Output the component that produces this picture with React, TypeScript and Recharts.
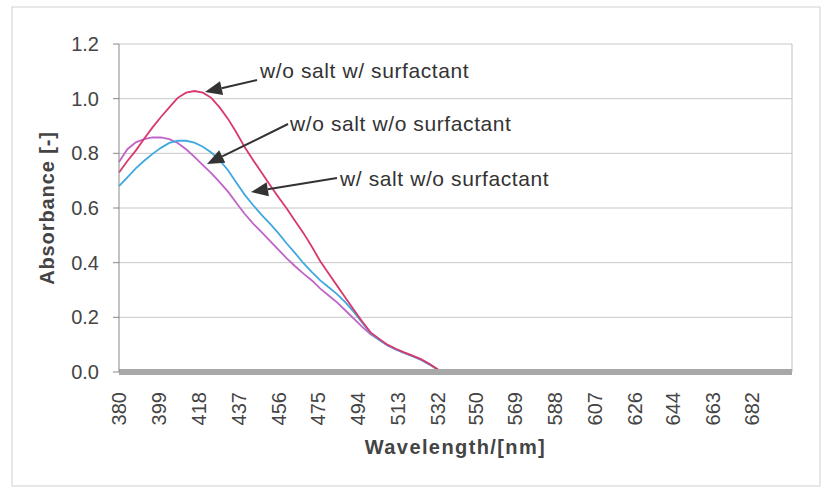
import React from 'react';
import { LineChart, Line, XAxis, YAxis, CartesianGrid, ReferenceLine } from 'recharts';

// 波長 (nm)
const wavelengths = [
  380, 384, 388, 392, 396, 400, 404, 408, 412, 416, 420, 424, 428, 432, 436, 440,
  444, 448, 452, 456, 460, 464, 468, 472, 476, 480, 484, 488, 492, 496, 500, 504,
  508, 512, 516, 520, 524, 528, 532, 534, 540,
];

// w/o salt w/ surfactant
const saltFreeSurfactant = [
  0.730, 0.772, 0.810, 0.853, 0.895, 0.933, 0.968, 1.003, 1.022, 1.028, 1.022, 1.003, 0.968, 0.926, 0.876, 0.822,
  0.775, 0.730, 0.684, 0.640, 0.598, 0.552, 0.508, 0.458, 0.405, 0.360, 0.316, 0.272, 0.228, 0.185, 0.145, 0.122,
  0.100, 0.085, 0.072, 0.060, 0.047, 0.030, 0.010, 0.0, 0.0,
];

// w/o salt w/o surfactant
const saltFreePlain = [
  0.680, 0.712, 0.745, 0.773, 0.798, 0.820, 0.838, 0.846, 0.846, 0.839, 0.824, 0.803, 0.775, 0.738, 0.692, 0.648,
  0.610, 0.575, 0.543, 0.508, 0.470, 0.435, 0.398, 0.365, 0.335, 0.310, 0.285, 0.255, 0.220, 0.180, 0.142, 0.118,
  0.098, 0.083, 0.070, 0.058, 0.045, 0.028, 0.008, 0.0, 0.0,
];

// w/ salt w/o surfactant
const saltPlain = [
  0.768, 0.815, 0.840, 0.852, 0.858, 0.858, 0.852, 0.838, 0.815, 0.787, 0.757, 0.728, 0.695, 0.660, 0.618, 0.578,
  0.543, 0.512, 0.480, 0.448, 0.416, 0.387, 0.360, 0.335, 0.305, 0.280, 0.255, 0.225, 0.195, 0.165, 0.138, 0.118,
  0.098, 0.083, 0.070, 0.058, 0.045, 0.028, 0.008, 0.0, 0.0,
];

const xTicks = [380, 399, 418, 437, 456, 475, 494, 513, 532, 550, 569, 588, 607, 626, 644, 663, 682];
const yTicks = [0, 0.2, 0.4, 0.6, 0.8, 1.0, 1.2];

const rows = wavelengths.map((nm, i) => ({
  nm,
  surf: saltFreeSurfactant[i],
  plain: saltFreePlain[i],
  salt: saltPlain[i],
}));

const FONT = '"Liberation Sans", Arial, sans-serif';

// 縦書きの横軸ラベル
const XTick = ({ x, y, payload }: any) => (
  <text
    x={x}
    y={y + 18}
    transform={`rotate(-90, ${x}, ${y + 18})`}
    textAnchor="end"
    dy="0.36em"
    fontSize={20}
    fill="#444"
    fontFamily={FONT}
  >
    {payload.value}
  </text>
);

// 注釈の矢印
function Arrow({ from, to }: { from: [number, number]; to: [number, number] }) {
  const [sx, sy] = from;
  const [tx, ty] = to;
  const len = Math.hypot(tx - sx, ty - sy);
  const ux = (tx - sx) / len;
  const uy = (ty - sy) / len;
  const hl = 17;
  const hw = 7;
  const bx = tx - ux * hl;
  const by = ty - uy * hl;
  const pts = `${tx},${ty} ${bx - uy * hw},${by + ux * hw} ${bx + uy * hw},${by - ux * hw}`;
  return (
    <g>
      <line x1={sx} y1={sy} x2={bx} y2={by} stroke="#333" strokeWidth={2} />
      <polygon points={pts} fill="#333" />
    </g>
  );
}

const notes = [
  { text: 'w/o salt w/ surfactant', x: 260, y: 78, from: [257, 80] as [number, number], to: [205, 92] as [number, number] },
  { text: 'w/o salt w/o surfactant', x: 290, y: 131, from: [288, 124] as [number, number], to: [207, 164] as [number, number] },
  { text: 'w/ salt w/o surfactant', x: 340, y: 186, from: [337, 178] as [number, number], to: [251, 192] as [number, number] },
];

export default function App() {
  return (
    <div style={{ position: 'absolute', left: 0, top: 0, width: 825, height: 488, background: '#fff' }}>
      <LineChart width={825} height={488} data={rows} margin={{ top: 44, right: 33, bottom: 46, left: 0 }}>
        <CartesianGrid vertical={false} stroke="#c8c8c8" />
        <ReferenceLine x={701} stroke="#c0c0c0" />
        <XAxis
          dataKey="nm"
          type="number"
          domain={[380, 701]}
          ticks={xTicks}
          interval={0}
          height={70}
          tickLine={false}
          tickSize={0}
          axisLine={{ stroke: '#a8a8a8', strokeWidth: 6 }}
          tick={<XTick />}
          label={{
            content: ({ viewBox }: any) => (
              <text
                x={viewBox.x + viewBox.width / 2}
                y={viewBox.y + 82}
                textAnchor="middle"
                fontSize={20}
                fontWeight="bold"
                letterSpacing={1.4}
                fill="#444"
                fontFamily={FONT}
              >
                Wavelength/[nm]
              </text>
            ),
          }}
        />
        <YAxis
          type="number"
          domain={[0, 1.2]}
          ticks={yTicks}
          width={119}
          tickSize={6}
          tickMargin={14}
          stroke="#888"
          tick={{ fontSize: 20, fill: '#444', fontFamily: FONT }}
          tickFormatter={(v: number) => v.toFixed(1)}
          label={{
            content: ({ viewBox }: any) => (
              <text
                x={viewBox.x + 47}
                y={viewBox.y + viewBox.height / 2}
                transform={`rotate(-90, ${viewBox.x + 47}, ${viewBox.y + viewBox.height / 2})`}
                textAnchor="middle"
                dy="0.36em"
                fontSize={20}
                fontWeight="bold"
                letterSpacing={0.9}
                fill="#444"
                fontFamily={FONT}
              >
                Absorbance [-]
              </text>
            ),
          }}
        />
        <Line dataKey="salt" stroke="#c064c8" strokeWidth={1.8} dot={false} isAnimationActive={false} />
        <Line dataKey="plain" stroke="#40a8e0" strokeWidth={1.8} dot={false} isAnimationActive={false} />
        <Line dataKey="surf" stroke="#d9386a" strokeWidth={1.8} dot={false} isAnimationActive={false} />
      </LineChart>
      <svg width={825} height={488} style={{ position: 'absolute', left: 0, top: 0, pointerEvents: 'none' }}>
        <rect x={12} y={7} width={808} height={479} fill="none" stroke="#d0d0d0" />
        {notes.map((n) => (
          <g key={n.text}>
            <Arrow from={n.from} to={n.to} />
            <text x={n.x} y={n.y} fontSize={21} letterSpacing={0.6} fill="#333" fontFamily={FONT}>
              {n.text}
            </text>
          </g>
        ))}
      </svg>
    </div>
  );
}
